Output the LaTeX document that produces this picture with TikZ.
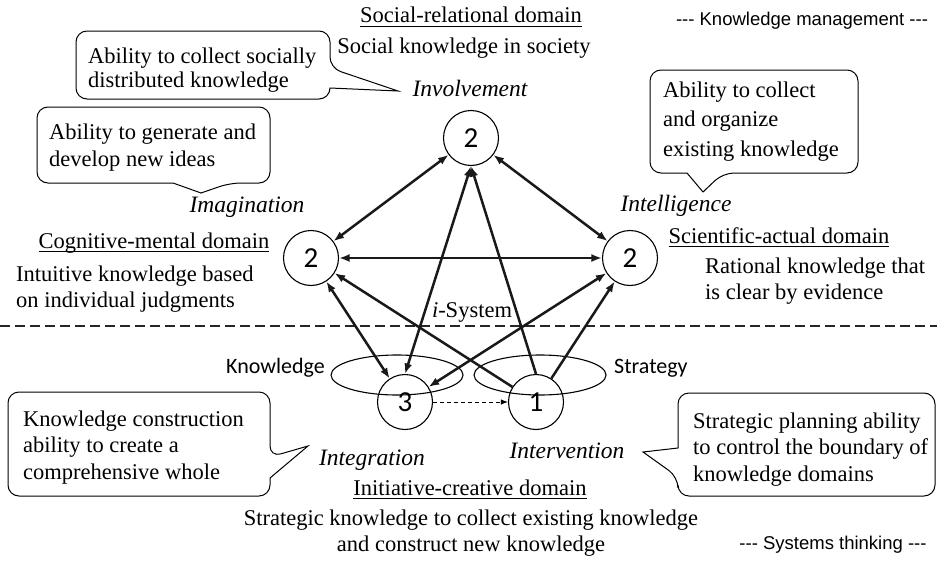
\documentclass[tikz,border=0pt]{standalone}
\usepackage{fontspec}
\setmainfont{Liberation Serif}
\newfontfamily\ksdigits{Carlito}
\newfontfamily\ksarial{Liberation Sans}
\usepackage{tikz}
\usetikzlibrary{arrows.meta}
\newcommand{\ksul}[1]{\setbox0\hbox{#1}\rlap{\rule[-3.6pt]{\wd0}{1.1pt}}\box0}
\tikzset{
  ksnode/.style={circle, draw=black, line width=1.1pt, minimum size=55pt, inner sep=0pt, font=\ksdigits\fontsize{29}{31}\selectfont},
  ksboth/.style={line width=2.5pt, draw=black!90, {Latex[length=10.5pt,width=8pt]}-{Latex[length=10.5pt,width=8pt]}},
  ksone/.style={line width=2.5pt, draw=black!90, -{Latex[length=10.5pt,width=8pt]}},
  ksdash/.style={line width=1pt, draw=black, dash pattern=on 4pt off 3pt, -{Latex[length=7pt,width=5.5pt]}},
  kssplit/.style={line width=1.5pt, draw=black!85, dash pattern=on 10pt off 5pt},
  ksring/.style={draw=black, line width=1.1pt},
  ksbubble/.style={draw=black, line width=1pt, rounded corners=11pt},
  kstext/.style={inner sep=0pt, font=\fontsize{22.5}{26.5}\selectfont},
  kshead/.style={kstext, anchor=base},
  ksblock/.style={kstext, align=left, anchor=north west},
  ksrole/.style={inner sep=0pt, anchor=base, font=\itshape\fontsize{23.5}{26}\selectfont},
  ksword/.style={inner sep=0pt, font=\ksdigits\fontsize{22}{24}\selectfont},
  ksnote/.style={inner sep=0pt, anchor=base, font=\ksarial\fontsize{18.5}{20}\selectfont},
}

\begin{document}
\begin{tikzpicture}[x=1pt, y=-1pt]
\useasboundingbox (0,0) rectangle (937,562);

\draw[kssplit] (0,326) -- (937,326);
\draw[ksring] (397,375) ellipse [x radius=66pt, y radius=20pt];
\draw[ksring] (540,375) ellipse [x radius=66pt, y radius=20pt];

\node[ksnode] (inv) at (471,138) {2};
\node[ksnode] (ima) at (311,258) {2};
\node[ksnode] (int) at (630,258) {2};
\node[ksnode] (itg) at (405,402) {3};
\node[ksnode] (itv) at (536,402) {1};

\draw[ksboth] (inv) -- (ima);
\draw[ksboth] (inv) -- (int);
\draw[ksboth] (ima) -- (int);
\draw[ksboth] (itg.north) -- (inv.south);
\draw[ksboth] (ima) -- (itg);
\draw[ksboth] (int) -- (itg);
\draw[ksone] (itv.north) -- (inv.south);
\draw[ksone] (itv) -- (ima);
\draw[ksone] (itv) -- (int);
\draw[ksdash] (itg) -- (itv);

\node[kshead] (socdom) at (471,23) {\ksul{Social-relational domain}};
\node[kshead] (socsum) at (464,53) {Social knowledge in society};
\node[ksrole] (invlab) at (470,96) {Involvement};
\node[ksnote] (kmnote) at (802,25) {--- Knowledge management ---};

\node[ksrole] (imalab) at (247,212) {Imagination};
\node[kshead] (cogdom) at (154,248) {\ksul{Cognitive-mental domain}};
\node[ksblock] (cogsum) at (16,265.5) {Intuitive knowledge based\\on individual judgments};

\node[ksrole] (intlab) at (676,211) {Intelligence};
\node[kshead] (scidom) at (779,243) {\ksul{Scientific-actual domain}};
\node[ksblock] (scisum) at (705,257.5) {Rational knowledge that\\is clear by evidence};

\node[kshead] (isys) at (472,317) {\textit{i}-System};
\node[ksword, anchor=base east] (knowlab) at (325,373) {Knowledge};
\node[ksword, anchor=base west] (stratlab) at (614,373) {Strategy};

\node[ksrole] (itglab) at (372,465) {Integration};
\node[ksrole] (itvlab) at (567,458) {Intervention};
\node[kshead] (inidom) at (470,495) {\ksul{Initiative-creative domain}};
\node[kstext, align=center, anchor=north] (inisum) at (471,509.5) {Strategic knowledge to collect existing knowledge\\and construct new knowledge};
\node[ksnote] (stnote) at (833,549) {--- Systems thinking ---};

\draw[ksbubble] (76,65) -- (76,31) -- (330,31) -- (330,68) [sharp corners] -- (398,91) -- (330,88) [rounded corners=11pt] -- (330,99) -- (76,99) -- cycle;
\node[ksblock, font=\fontsize{22.5}{24}\selectfont] (socialtip) at (88,47.5) {Ability to collect socially\\distributed knowledge};

\draw[ksbubble] (37,145) -- (37,107) -- (270,107) -- (270,183) -- (230,183) [sharp corners] -- (201,193) -- (173,183) [rounded corners=11pt] -- (37,183) -- cycle;
\node[ksblock, font=\fontsize{22.5}{27.5}\selectfont] (ideatip) at (49,123.5) {Ability to generate and\\develop new ideas};

\draw[ksbubble] (650,120) -- (650,70) -- (858,70) -- (858,173) -- (723,173) [sharp corners] -- (703,192) -- (687,173) [rounded corners=11pt] -- (650,173) -- cycle;
\node[ksblock, font=\fontsize{22.5}{29.5}\selectfont] (organtip) at (663,81.5) {Ability to collect\\and organize\\existing knowledge};

\draw[ksbubble] (8,440) -- (8,392) -- (270,392) -- (270,457) [sharp corners] -- (308,446) -- (270,478) [rounded corners=11pt] -- (270,496) -- (8,496) -- cycle;
\node[ksblock] (buildtip) at (23,410.5) {Knowledge construction\\ability to create a\\comprehensive whole};

\draw[ksbubble] (678,420) -- (678,393) -- (935,393) -- (935,496) -- (678,496) -- (678,477) [sharp corners] -- (643,452) -- (678,448) [rounded corners=11pt] -- cycle;
\node[ksblock] (plantip) at (693,412.5) {Strategic planning ability\\to control the boundary of\\knowledge domains};
\end{tikzpicture}
\end{document}
